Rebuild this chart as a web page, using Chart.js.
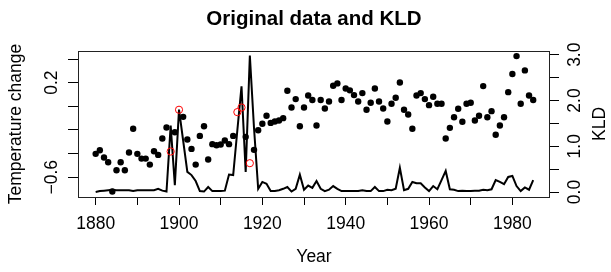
<!DOCTYPE html>
<html>
<head>
<meta charset="utf-8">
<script src="https://cdn.jsdelivr.net/npm/chart.js@4.4.0/dist/chart.umd.min.js"></script>
<style>
  html, body { margin: 0; padding: 0; background: #ffffff; }
  canvas { display: block; }
</style>
</head>
<body>
<canvas id="c" width="611" height="272"></canvas>
<script>
const years = [1880,1881,1882,1883,1884,1885,1886,1887,1888,1889,1890,1891,1892,1893,1894,1895,1896,1897,1898,1899,
  1900,1901,1902,1903,1904,1905,1906,1907,1908,1909,1910,1911,1912,1913,1914,1915,1916,1917,1918,1919,
  1920,1921,1922,1923,1924,1925,1926,1927,1928,1929,1930,1931,1932,1933,1934,1935,1936,1937,1938,1939,
  1940,1941,1942,1943,1944,1945,1946,1947,1948,1949,1950,1951,1952,1953,1954,1955,1956,1957,1958,1959,
  1960,1961,1962,1963,1964,1965,1966,1967,1968,1969,1970,1971,1972,1973,1974,1975,1976,1977,1978,1979,
  1980,1981,1982,1983,1984,1985];

const temperature = [-0.402,-0.371,-0.433,-0.473,-0.721,-0.541,-0.473,-0.541,-0.391,-0.190,
  -0.402,-0.442,-0.442,-0.493,-0.380,-0.411,-0.272,-0.179,-0.382,-0.219,
  -0.029,-0.089,-0.281,-0.360,-0.493,-0.250,-0.168,-0.450,-0.320,-0.329,
  -0.323,-0.289,-0.320,-0.250,-0.049,-0.010,-0.258,-0.481,-0.368,-0.202,
  -0.148,-0.080,-0.140,-0.128,-0.120,-0.100,0.132,-0.010,0.061,-0.168,
  -0.010,0.092,0.053,-0.162,0.053,-0.018,0.041,0.174,0.194,0.053,
  0.151,0.135,0.095,0.041,0.112,-0.029,0.030,0.151,0.041,-0.018,
  -0.128,0.022,0.072,0.202,-0.029,-0.069,-0.190,0.092,0.112,0.061,
  0.010,0.081,0.022,0.022,-0.272,-0.182,-0.092,-0.021,-0.131,0.022,
  0.030,-0.120,-0.080,0.171,-0.092,-0.041,-0.241,-0.162,-0.092,0.120,
  0.273,0.425,0.022,0.304,0.092,0.053];

const kld = [0.00,0.02,0.03,0.04,0.05,0.04,0.04,0.04,0.04,0.02,
  0.04,0.04,0.04,0.04,0.04,0.07,0.03,0.01,1.45,0.15,
  1.80,1.12,0.44,0.37,0.24,0.02,0.01,0.11,0.02,0.02,
  0.02,0.03,0.38,0.37,1.35,2.31,0.44,2.98,1.40,0.07,
  0.22,0.18,0.02,0.02,0.04,0.07,0.11,0.01,0.07,0.38,
  0.05,0.14,0.09,0.24,0.07,0.02,0.05,0.13,0.07,0.02,
  0.02,0.02,0.02,0.02,0.04,0.02,0.02,0.11,0.02,0.02,
  0.05,0.04,0.07,0.53,0.04,0.07,0.22,0.19,0.19,0.10,
  0.02,0.13,0.06,0.26,0.46,0.06,0.05,0.02,0.03,0.02,
  0.02,0.03,0.03,0.05,0.04,0.06,0.26,0.22,0.17,0.33,
  0.35,0.13,0.02,0.10,0.05,0.26];

const outlierYears = [1898, 1900, 1914, 1915, 1917];

const xTickValues = [1880,1890,1900,1910,1920,1930,1940,1950,1960,1970,1980];
const xTickLabels = ['1880','','1900','','1920','','1940','','1960','','1980'];
const tempTickValues = [-0.6,-0.4,-0.2,0,0.2,0.4];
const tempTickLabels = ['\u22120.6','','','','0.2',''];
const kldTickValues = [0,0.5,1,1.5,2,2.5,3];
const kldTickLabels = ['0.0','','1.0','','2.0','','3.0'];

const chartTitle = 'Original data and KLD';
const xTitle = 'Year';
const yTitle = 'Temperature change';
const y2Title = 'KLD';

const dotPoints = [];
const outlierPoints = [];
years.forEach((yr, i) => {
  const p = { x: yr, y: temperature[i] };
  if (outlierYears.includes(yr)) outlierPoints.push(p); else dotPoints.push(p);
});
const kldPoints = years.map((yr, i) => ({ x: yr, y: kld[i] }));

const FONT = '"Liberation Sans", Arial, Helvetica, sans-serif';

const labelsPlugin = {
  id: 'rlabels',
  afterDraw(chart) {
    const ctx = chart.ctx;
    const a = chart.chartArea;
    const sx = chart.scales.x, sy = chart.scales.y, sy2 = chart.scales.y1;
    ctx.save();
    // box
    ctx.strokeStyle = '#222';
    ctx.lineWidth = 1;
    ctx.strokeRect(a.left + 0.5, a.top + 0.5, a.right - a.left - 1, a.bottom - a.top);
    ctx.fillStyle = '#000';
    // title
    ctx.font = 'bold 20.5px ' + FONT;
    ctx.textAlign = 'center';
    ctx.textBaseline = 'middle';
    ctx.fillText(chartTitle, (a.left + a.right) / 2, 19);
    // x tick labels
    ctx.font = '17.5px ' + FONT;
    xTickValues.forEach((v, i) => {
      if (xTickLabels[i]) ctx.fillText(xTickLabels[i], sx.getPixelForValue(v), 224);
    });
    ctx.fillText(xTitle, (a.left + a.right) / 2, 257.5);
    const cy = (a.top + a.bottom) / 2;
    function rot(text, x, y) {
      ctx.save();
      ctx.translate(x, y);
      ctx.rotate(-Math.PI / 2);
      ctx.fillText(text, 0, 0);
      ctx.restore();
    }
    tempTickValues.forEach((v, i) => {
      if (tempTickLabels[i]) rot(tempTickLabels[i], 52.5, sy.getPixelForValue(v));
    });
    kldTickValues.forEach((v, i) => {
      if (kldTickLabels[i]) rot(kldTickLabels[i], 575.5, sy2.getPixelForValue(v));
    });
    rot(yTitle, 16, cy);
    rot(y2Title, 600, cy);
    ctx.restore();
  }
};

function tickSetter(vals) {
  return function (s) { s.ticks = vals.map(v => ({ value: v })); };
}

new Chart(document.getElementById('c'), {
  type: 'scatter',
  data: {
    datasets: [
      {
        label: 'outliers',
        data: outlierPoints,
        yAxisID: 'y',
        pointStyle: 'circle',
        pointRadius: 3.6,
        pointBorderWidth: 1,
        pointBorderColor: '#ff0000',
        pointBackgroundColor: 'rgba(0,0,0,0)',
        showLine: false
      },
      {
        label: 'temperature',
        data: dotPoints,
        yAxisID: 'y',
        pointRadius: 3.2,
        pointBorderWidth: 0,
        pointBackgroundColor: '#000',
        pointBorderColor: '#000',
        showLine: false
      },
      {
        label: 'KLD',
        data: kldPoints,
        yAxisID: 'y1',
        showLine: true,
        borderColor: '#000',
        borderWidth: 2,
        pointRadius: 0,
        tension: 0
      }
    ]
  },
  options: {
    responsive: false,
    animation: false,
    events: [],
    layout: { padding: { top: 51, left: 0, right: 0, bottom: 0 } },
    plugins: { legend: { display: false }, title: { display: false }, tooltip: { enabled: false } },
    scales: {
      x: {
        type: 'linear', position: 'bottom', min: 1875.76, max: 1989.03,
        afterBuildTicks: tickSetter(xTickValues),
        afterFit: s => { s.height = 75; },
        ticks: { display: false },
        border: { display: false },
        grid: { drawOnChartArea: false, drawTicks: true, tickLength: 8, tickColor: '#000', lineWidth: 1 }
      },
      y: {
        type: 'linear', position: 'left', min: -0.767, max: 0.468,
        afterBuildTicks: tickSetter(tempTickValues),
        afterFit: s => { s.width = 78; },
        ticks: { display: false },
        border: { display: false },
        grid: { drawOnChartArea: false, drawTicks: true, tickLength: 10, tickColor: '#000', lineWidth: 1 }
      },
      y1: {
        type: 'linear', position: 'right', min: -0.109, max: 3.081,
        afterBuildTicks: tickSetter(kldTickValues),
        afterFit: s => { s.width = 61; },
        ticks: { display: false },
        border: { display: false },
        grid: { drawOnChartArea: false, drawTicks: true, tickLength: 9, tickColor: '#000', lineWidth: 1 }
      }
    }
  },
  plugins: [labelsPlugin]
});
</script>
</body>
</html>
